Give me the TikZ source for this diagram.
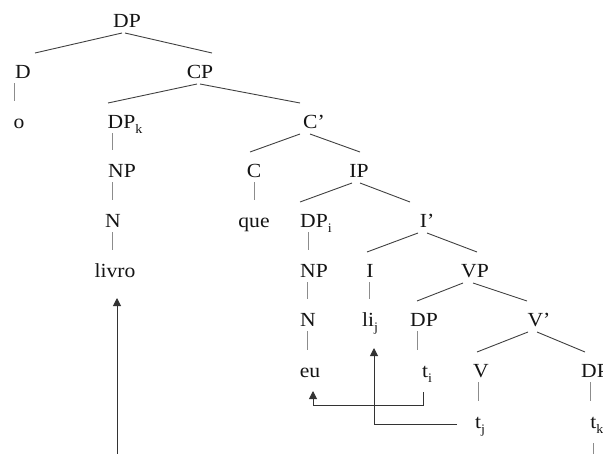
\documentclass[tikz,border=0pt]{standalone}
\usepackage{fontspec}
\setmainfont{Liberation Serif}[FakeStretch=1.08]
\usetikzlibrary{arrows.meta}
\tikzset{
 lab/.style={anchor=base, inner sep=0pt, text=black!92, font=\fontsize{20}{24}\selectfont},
 br/.style={draw=black!75, line width=0.9pt},
 bar/.style={draw=black!45, line width=0.9pt},
 mv/.style={draw=black!80, line width=1pt, -{Triangle[width=8pt,length=8pt]}},
}
\newcommand\subx[1]{\raisebox{-0.26em}{\fontsize{13}{13}\selectfont #1}}
\newcommand\tr[4]{\draw[br] ([shift={(#3,6)}]#1.base) -- ([shift={(#4,-25)}]#2.base);}
\newcommand\vb[4]{\draw[bar] ([shift={(#3,5)}]#1.base) -- ([shift={(#4,-27)}]#2.base);}
\begin{document}
\begin{tikzpicture}[x=1pt,y=-1pt]
\path[use as bounding box] (0,0) rectangle (603,453);
\clip (0,0) rectangle (603,453);
\node[lab] (dp) at (127,27) {DP};
\node[lab] (d) at (23,78) {D};
\node[lab] (cp) at (200,78) {CP};
\node[lab] (o) at (19,128) {o};
\node[lab] (dpk) at (125,128) {DP\subx{k}};
\node[lab] (cbar) at (314,128) {C’};
\node[lab] (npk) at (122,177) {NP};
\node[lab] (c) at (254,177) {C};
\node[lab] (ip) at (359,177) {IP};
\node[lab] (nk) at (113,227) {N};
\node[lab] (que) at (254,227) {que};
\node[lab] (dpi) at (316,227) {DP\subx{i}};
\node[lab] (ibar) at (427,227) {I’};
\node[lab] (livro) at (115,277) {livro};
\node[lab] (npi) at (314,277) {NP};
\node[lab] (i) at (370,277) {I};
\node[lab] (vp) at (475,277) {VP};
\node[lab] (ni) at (308,326) {N};
\node[lab] (lij) at (370,326) {li\subx{j}};
\node[lab] (dpt) at (424,326) {DP};
\node[lab] (vbar) at (539,326) {V’};
\node[lab] (eu) at (310,377) {eu};
\node[lab] (ti) at (427,377) {t\subx{i}};
\node[lab] (v) at (481,377) {V};
\node[lab] (dpo) at (595,377) {DP};
\node[lab] (tj) at (480,428) {t\subx{j}};
\node[lab] (tk) at (597,428) {t\subx{k}};
\coordinate (bot) at (117,460);
\coordinate (bot2) at (593,460);
% branches
\tr{dp}{d}{-5}{12}
\tr{dp}{cp}{-2}{12}
\tr{cp}{dpk}{-3}{-17}
\tr{cp}{cbar}{0}{-14}
\tr{cbar}{c}{-14}{-4}
\tr{cbar}{ip}{-4}{1}
\tr{ip}{dpi}{-7}{-16}
\tr{ip}{ibar}{1}{-17}
\tr{ibar}{i}{-9}{-3}
\tr{ibar}{vp}{0}{2}
\tr{vp}{dpt}{-12}{-7}
\tr{vp}{vbar}{-2}{-12}
\tr{vbar}{v}{-11}{-4}
\tr{vbar}{dpo}{-2}{-10}
% unary bars
\vb{d}{o}{-9}{-5}
\vb{dpk}{npk}{-13}{-10}
\vb{npk}{nk}{-10}{-1}
\vb{nk}{livro}{-1}{-3}
\vb{c}{que}{0}{0}
\vb{dpi}{npi}{-8}{-6}
\vb{npi}{ni}{-7}{-1}
\vb{ni}{eu}{-1}{-3}
\vb{i}{lij}{-1}{-1}
\vb{dpt}{ti}{-7}{-10}
\vb{v}{tj}{-3}{-2}
\vb{dpo}{tk}{-5}{-7}
\draw[bar] ([shift={(-4,15)}]tk.base) -- (bot2);
% movement arrows
\draw[mv] ([shift={(-4,15)}]ti.base) -- ++(0,13) -| ([shift={(3,14)}]eu.base);
\draw[mv] ([shift={(-23,-4)}]tj.base) -| ([shift={(4,22)}]lij.base);
\draw[mv] (bot) -- ([shift={(2,21)}]livro.base);
\end{tikzpicture}
\end{document}
